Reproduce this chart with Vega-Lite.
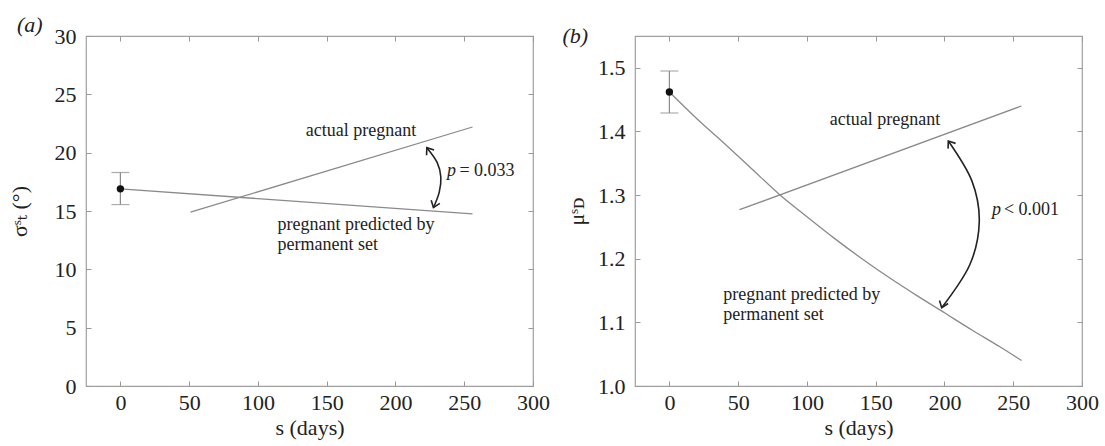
{
  "$schema": "https://vega.github.io/schema/vega-lite/v6.json",
  "background": "white",
  "padding": {"left": 7, "top": 13, "right": 5, "bottom": 5},
  "spacing": 10,
  "config": {
    "view": {"stroke": "#a0a0a0", "strokeWidth": 1.2},
    "axis": {
      "labelFont": "'Liberation Serif', 'DejaVu Serif', serif", "labelFontSize": 22, "labelColor": "#222",
      "titleFont": "'Liberation Serif', 'DejaVu Serif', serif", "titleFontSize": 22, "titleFontWeight": "normal", "titleColor": "#222",
      "grid": false, "domain": false, "tickColor": "#999", "tickSize": -5, "tickWidth": 1,
      "labelFlush": false, "labelOverlap": false, "labelPadding": 15
    },
    "axisBottom": {"labelPadding": 11},
    "title": {"font": "'Liberation Serif', 'DejaVu Serif', serif", "fontSize": 22, "fontWeight": "normal", "fontStyle": "italic", "color": "#222", "anchor": "start", "frame": "bounds", "offset": -4, "dy": 8},
    "text": {"font": "'Liberation Serif', 'DejaVu Serif', serif", "fontSize": 18, "color": "#222"}
  },
  "datasets": {
    "a_point": [{"s": 0, "v": 16.9, "lo": 15.55, "hi": 18.3}],
    "a_pred": [{"s": 0, "v": 16.9}, {"s": 256, "v": 14.75}],
    "a_actual": [{"s": 51, "v": 14.9}, {"s": 256, "v": 22.2}],
    "a_arrow": [
      {"s": 222.8, "v": 20.43, "o": 1}, {"s": 230.3, "v": 19.17, "o": 2}, {"s": 233, "v": 17.9, "o": 3},
      {"s": 231.8, "v": 16.6, "o": 4}, {"s": 227.6, "v": 15.29, "o": 5}
    ],
    "a_heads": [{"s": 222.8, "v": 20.43, "end": "top"}, {"s": 227.6, "v": 15.29, "end": "bottom"}],
    "a_labels": [
      {"s": 114.2, "v": 13.37, "label": "pregnant predicted by"},
      {"s": 114.2, "v": 11.66, "label": "permanent set"}
    ],
    "a_actual_label": [{"s": 175, "v": 21.4, "label": "actual pregnant"}],
    "a_p": [{"s": 237.4, "v": 18.43, "label": "p"}],
    "a_pval": [{"s": 246.5, "v": 18.43, "label": "= 0.033"}],
    "b_point": [{"s": 0, "v": 1.462, "lo": 1.429, "hi": 1.495}],
    "b_pred": [
      {"s": 0, "v": 1.462}, {"s": 20, "v": 1.42}, {"s": 40, "v": 1.381}, {"s": 60, "v": 1.341},
      {"s": 80, "v": 1.301}, {"s": 100, "v": 1.266}, {"s": 120, "v": 1.232}, {"s": 140, "v": 1.2},
      {"s": 160, "v": 1.17}, {"s": 180, "v": 1.142}, {"s": 200, "v": 1.115}, {"s": 220, "v": 1.088},
      {"s": 240, "v": 1.062}, {"s": 256, "v": 1.04}
    ],
    "b_actual": [{"s": 51, "v": 1.277}, {"s": 256, "v": 1.44}],
    "b_arrow": [
      {"s": 202.8, "v": 1.385, "o": 1}, {"s": 220, "v": 1.322, "o": 2}, {"s": 225.3, "v": 1.258, "o": 3},
      {"s": 218.5, "v": 1.191, "o": 4}, {"s": 198, "v": 1.123, "o": 5}
    ],
    "b_heads": [{"s": 202.8, "v": 1.385, "end": "top"}, {"s": 198, "v": 1.123, "end": "bottom"}],
    "b_labels": [
      {"s": 39.2, "v": 1.135, "label": "pregnant predicted by"},
      {"s": 39.2, "v": 1.104, "label": "permanent set"}
    ],
    "b_actual_label": [{"s": 156.8, "v": 1.41, "label": "actual pregnant"}],
    "b_p": [{"s": 234.6, "v": 1.276, "label": "p"}],
    "b_pval": [{"s": 243.2, "v": 1.276, "label": "< 0.001"}]
  },
  "hconcat": [
    {
      "title": {"text": "(a)", "dx": 9},
      "width": 447,
      "height": 350,
      "resolve": {"axis": {"x": "independent", "y": "independent"}},
      "layer": [
        {
          "data": {"name": "a_actual"},
          "mark": {"type": "line", "color": "#8a8a8a", "strokeWidth": 1.3},
          "encoding": {
            "x": {"field": "s", "type": "quantitative", "scale": {"domain": [-25, 300], "nice": false},
              "axis": {"orient": "bottom", "title": "s (days)", "values": [0, 50, 100, 150, 200, 250, 300]}},
            "y": {"field": "v", "type": "quantitative", "scale": {"domain": [0, 30], "nice": false},
              "axis": {"orient": "left", "title": "σˢₜ (°)", "titlePadding": 23, "values": [0, 5, 10, 15, 20, 25, 30]}}
          }
        },
        {
          "data": {"name": "a_point"},
          "mark": {"type": "point", "opacity": 0},
          "encoding": {
            "x": {"field": "s", "type": "quantitative", "axis": {"orient": "top", "labels": false, "title": null, "values": [0, 50, 100, 150, 200, 250, 300]}},
            "y": {"field": "v", "type": "quantitative", "axis": {"orient": "right", "labels": false, "title": null, "values": [0, 5, 10, 15, 20, 25, 30]}}
          }
        },
        {
          "data": {"name": "a_pred"},
          "mark": {"type": "line", "color": "#8a8a8a", "strokeWidth": 1.3},
          "encoding": {
            "x": {"field": "s", "type": "quantitative", "axis": null},
            "y": {"field": "v", "type": "quantitative", "axis": null}
          }
        },
        {
          "data": {"name": "a_point"},
          "mark": {"type": "errorbar", "color": "#8a8a8a", "ticks": {"size": 18, "thickness": 1.2}, "rule": {"strokeWidth": 1.2}},
          "encoding": {
            "x": {"field": "s", "type": "quantitative", "axis": null},
            "y": {"field": "lo", "type": "quantitative", "axis": null},
            "y2": {"field": "hi"}
          }
        },
        {
          "data": {"name": "a_point"},
          "mark": {"type": "point", "filled": true, "color": "#111", "size": 55, "opacity": 1},
          "encoding": {
            "x": {"field": "s", "type": "quantitative", "axis": null},
            "y": {"field": "v", "type": "quantitative", "axis": null}
          }
        },
        {
          "data": {"name": "a_arrow"},
          "mark": {"type": "line", "color": "#222", "strokeWidth": 1.6, "interpolate": "cardinal"},
          "encoding": {
            "x": {"field": "s", "type": "quantitative", "axis": null},
            "y": {"field": "v", "type": "quantitative", "axis": null},
            "order": {"field": "o"}
          }
        },
        {
          "data": {"name": "a_heads"},
          "mark": {"type": "point", "shape": "M-1,-0.75L0,0L-1,0.75", "filled": false, "color": "#222", "strokeWidth": 1.6, "size": 150, "opacity": 1},
          "encoding": {
            "x": {"field": "s", "type": "quantitative", "axis": null},
            "y": {"field": "v", "type": "quantitative", "axis": null},
            "angle": {"field": "end", "type": "nominal", "scale": {"domain": ["top", "bottom"], "range": [235, 110]}, "legend": null}
          }
        },
        {
          "data": {"name": "a_actual_label"},
          "mark": {"type": "text", "align": "center", "baseline": "alphabetic"},
          "encoding": {
            "x": {"field": "s", "type": "quantitative", "axis": null},
            "y": {"field": "v", "type": "quantitative", "axis": null},
            "text": {"field": "label"}
          }
        },
        {
          "data": {"name": "a_labels"},
          "mark": {"type": "text", "align": "left", "baseline": "alphabetic"},
          "encoding": {
            "x": {"field": "s", "type": "quantitative", "axis": null},
            "y": {"field": "v", "type": "quantitative", "axis": null},
            "text": {"field": "label"}
          }
        },
        {
          "data": {"name": "a_p"},
          "mark": {"type": "text", "align": "left", "baseline": "middle", "fontStyle": "italic"},
          "encoding": {
            "x": {"field": "s", "type": "quantitative", "axis": null},
            "y": {"field": "v", "type": "quantitative", "axis": null},
            "text": {"field": "label"}
          }
        },
        {
          "data": {"name": "a_pval"},
          "mark": {"type": "text", "align": "left", "baseline": "middle"},
          "encoding": {
            "x": {"field": "s", "type": "quantitative", "axis": null},
            "y": {"field": "v", "type": "quantitative", "axis": null},
            "text": {"field": "label"}
          }
        }
      ]
    },
    {
      "title": {"text": "(b)", "dx": -3},
      "width": 447,
      "height": 350,
      "resolve": {"axis": {"x": "independent", "y": "independent"}},
      "layer": [
        {
          "data": {"name": "b_actual"},
          "mark": {"type": "line", "color": "#8a8a8a", "strokeWidth": 1.3},
          "encoding": {
            "x": {"field": "s", "type": "quantitative", "scale": {"domain": [-25, 300], "nice": false},
              "axis": {"orient": "bottom", "title": "s (days)", "values": [0, 50, 100, 150, 200, 250, 300]}},
            "y": {"field": "v", "type": "quantitative", "scale": {"domain": [1.0, 1.55], "nice": false, "zero": false},
              "axis": {"orient": "left", "title": "μˢᴅ", "titlePadding": 9, "format": ".1f", "values": [1.0, 1.1, 1.2, 1.3, 1.4, 1.5]}}
          }
        },
        {
          "data": {"name": "b_point"},
          "mark": {"type": "point", "opacity": 0},
          "encoding": {
            "x": {"field": "s", "type": "quantitative", "axis": {"orient": "top", "labels": false, "title": null, "values": [0, 50, 100, 150, 200, 250, 300]}},
            "y": {"field": "v", "type": "quantitative", "axis": {"orient": "right", "labels": false, "title": null, "values": [1.0, 1.1, 1.2, 1.3, 1.4, 1.5]}}
          }
        },
        {
          "data": {"name": "b_pred"},
          "mark": {"type": "line", "color": "#8a8a8a", "strokeWidth": 1.3, "interpolate": "monotone"},
          "encoding": {
            "x": {"field": "s", "type": "quantitative", "axis": null},
            "y": {"field": "v", "type": "quantitative", "axis": null}
          }
        },
        {
          "data": {"name": "b_point"},
          "mark": {"type": "errorbar", "color": "#8a8a8a", "ticks": {"size": 18, "thickness": 1.2}, "rule": {"strokeWidth": 1.2}},
          "encoding": {
            "x": {"field": "s", "type": "quantitative", "axis": null},
            "y": {"field": "lo", "type": "quantitative", "axis": null},
            "y2": {"field": "hi"}
          }
        },
        {
          "data": {"name": "b_point"},
          "mark": {"type": "point", "filled": true, "color": "#111", "size": 55, "opacity": 1},
          "encoding": {
            "x": {"field": "s", "type": "quantitative", "axis": null},
            "y": {"field": "v", "type": "quantitative", "axis": null}
          }
        },
        {
          "data": {"name": "b_arrow"},
          "mark": {"type": "line", "color": "#222", "strokeWidth": 1.6, "interpolate": "cardinal"},
          "encoding": {
            "x": {"field": "s", "type": "quantitative", "axis": null},
            "y": {"field": "v", "type": "quantitative", "axis": null},
            "order": {"field": "o"}
          }
        },
        {
          "data": {"name": "b_heads"},
          "mark": {"type": "point", "shape": "M-1,-0.75L0,0L-1,0.75", "filled": false, "color": "#222", "strokeWidth": 1.6, "size": 150, "opacity": 1},
          "encoding": {
            "x": {"field": "s", "type": "quantitative", "axis": null},
            "y": {"field": "v", "type": "quantitative", "axis": null},
            "angle": {"field": "end", "type": "nominal", "scale": {"domain": ["top", "bottom"], "range": [239, 123]}, "legend": null}
          }
        },
        {
          "data": {"name": "b_actual_label"},
          "mark": {"type": "text", "align": "center", "baseline": "alphabetic"},
          "encoding": {
            "x": {"field": "s", "type": "quantitative", "axis": null},
            "y": {"field": "v", "type": "quantitative", "axis": null},
            "text": {"field": "label"}
          }
        },
        {
          "data": {"name": "b_labels"},
          "mark": {"type": "text", "align": "left", "baseline": "alphabetic"},
          "encoding": {
            "x": {"field": "s", "type": "quantitative", "axis": null},
            "y": {"field": "v", "type": "quantitative", "axis": null},
            "text": {"field": "label"}
          }
        },
        {
          "data": {"name": "b_p"},
          "mark": {"type": "text", "align": "left", "baseline": "middle", "fontStyle": "italic"},
          "encoding": {
            "x": {"field": "s", "type": "quantitative", "axis": null},
            "y": {"field": "v", "type": "quantitative", "axis": null},
            "text": {"field": "label"}
          }
        },
        {
          "data": {"name": "b_pval"},
          "mark": {"type": "text", "align": "left", "baseline": "middle"},
          "encoding": {
            "x": {"field": "s", "type": "quantitative", "axis": null},
            "y": {"field": "v", "type": "quantitative", "axis": null},
            "text": {"field": "label"}
          }
        }
      ]
    }
  ]
}
